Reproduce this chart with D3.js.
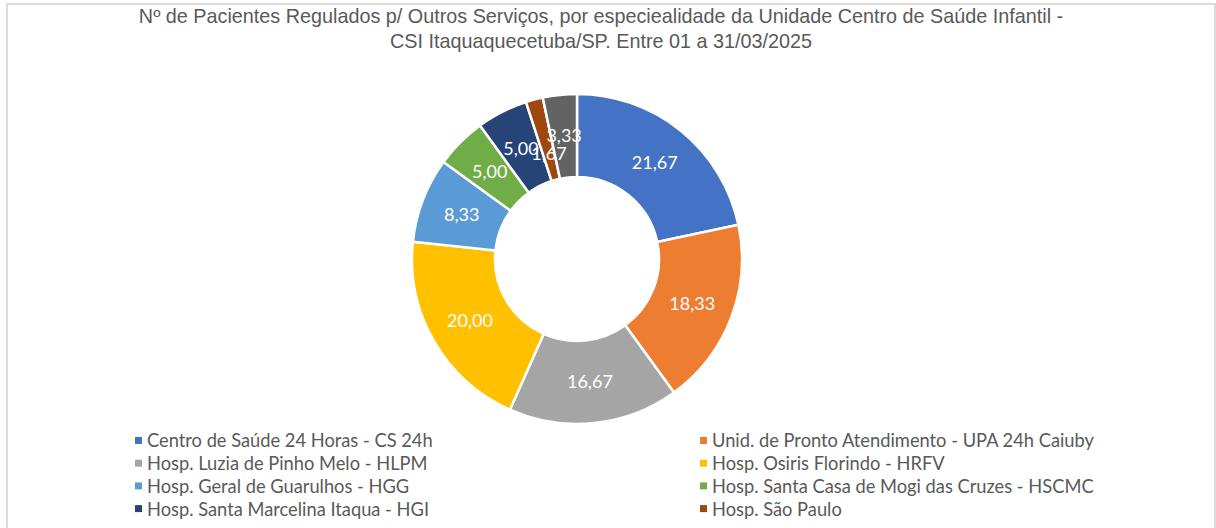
<!DOCTYPE html>
<html lang="pt">
<head>
<meta charset="utf-8">
<title>Pacientes Regulados</title>
<script src="https://d3js.org/d3.v7.min.js"></script>
<style>
  body { margin: 0; background: #fff; }
</style>
</head>
<body>
<div id="chart"></div>
<script>
// data
var categories = [
  "Centro de Saúde 24 Horas - CS 24h",
  "Unid. de Pronto Atendimento - UPA 24h Caiuby",
  "Hosp. Luzia de Pinho Melo - HLPM",
  "Hosp. Osiris Florindo - HRFV",
  "Hosp. Geral de Guarulhos - HGG",
  "Hosp. Santa Casa de Mogi das Cruzes - HSCMC",
  "Hosp. Santa Marcelina Itaqua - HGI",
  "Hosp. São Paulo",
  ""   // last entry's legend falls below the visible area
];
var values = [21.67, 18.33, 16.67, 20.00, 8.33, 5.00, 5.00, 1.67, 3.33];
var colors = ["#4472C4", "#ED7D31", "#A5A5A5", "#FFC000", "#5B9BD5", "#70AD47", "#264478", "#9E480E", "#636363"];
var titleLines = [
  "Nº de Pacientes Regulados p/ Outros Serviços, por especiealidade da Unidade Centro de Saúde Infantil -",
  "CSI Itaquaquecetuba/SP. Entre 01 a 31/03/2025"
];

var w = 1216, h = 528;

var svg = d3.select('#chart')
    .append('svg')
    .attr('width', w)
    .attr('height', h);

// chart border
svg.append('rect')
    .attr('x', 7).attr('y', 4)
    .attr('width', w - 8).attr('height', h + 10)
    .attr('fill', 'none')
    .attr('stroke', '#d9d9d9')
    .attr('stroke-width', 2);

// title
svg.append('g').selectAll('text')
    .data(titleLines)
    .enter()
    .append('text')
    .attr('x', 601)
    .attr('y', function (d, i) { return 23 + i * 25; })
    .attr('text-anchor', 'middle')
    .style('font-family', '"Liberation Sans", Arial, sans-serif')
    .style('font-size', '19.8px')
    .style('fill', '#595959')
    .text(function (d) { return d; });

// donut
var cx = 577, cy = 259, rOuter = 165, rInner = 82;
var pie = d3.pie().sort(null).value(function (d) { return d; });
var arc = d3.arc().innerRadius(rInner).outerRadius(rOuter);
var color = d3.scaleOrdinal().domain(d3.range(values.length)).range(colors);
var fmt = function (v) { return d3.format('.2f')(v).replace('.', ','); };

// labels sit mid-ring; very thin slices get pulled a bit inward like the original
var labelPos = function (d) {
    var r = (rInner + rOuter) / 2;
    if (d.endAngle - d.startAngle < 0.15) r = r * 0.88;
    return d3.arc().innerRadius(r).outerRadius(r).centroid(d);
};

var g = svg.append('g').attr('transform', 'translate(' + cx + ',' + cy + ')');
var arcs = pie(values);

g.selectAll('path')
    .data(arcs)
    .enter()
    .append('path')
    .attr('d', arc)
    .attr('fill', function (d, i) { return color(i); })
    .attr('stroke', '#fff')
    .attr('stroke-width', 2.5);

g.selectAll('text')
    .data(arcs)
    .enter()
    .append('text')
    .attr('transform', function (d) { return 'translate(' + labelPos(d) + ')'; })
    .attr('text-anchor', 'middle')
    .attr('dy', '0.35em')
    .style('font-family', 'Lato, "Open Sans", sans-serif')
    .style('font-size', '18px')
    .style('fill', '#fff')
    .text(function (d) { return fmt(d.data); });

// legend, two columns
var legendItems = categories.map(function (c, i) { return { name: c, i: i }; })
    .filter(function (d) { return d.name !== ''; });
var colX = [135, 700];
var legend = svg.append('g');
var item = legend.selectAll('g')
    .data(legendItems)
    .enter()
    .append('g')
    .attr('transform', function (d) {
        return 'translate(' + colX[d.i % 2] + ',' + (441 + Math.floor(d.i / 2) * 22.7) + ')';
    });
item.append('rect')
    .attr('x', 0).attr('y', -4)
    .attr('width', 7).attr('height', 7)
    .attr('fill', function (d) { return color(d.i); });
item.append('text')
    .attr('x', 12)
    .attr('dy', '0.35em')
    .style('font-family', 'Lato, "Open Sans", sans-serif')
    .style('font-size', '18.3px')
    .style('fill', '#595959')
    .text(function (d) { return d.name; });
</script>
</body>
</html>
